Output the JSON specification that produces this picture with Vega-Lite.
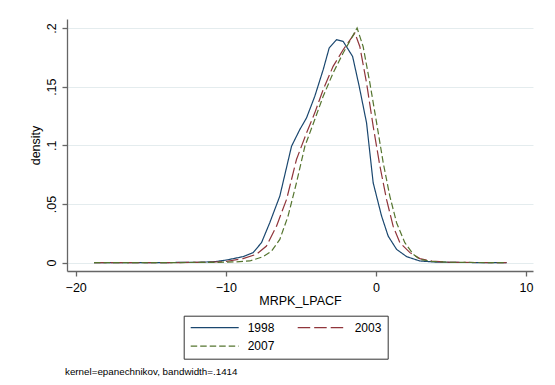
{
  "$schema": "https://vega.github.io/schema/vega-lite/v6.json",
  "width": 466,
  "height": 252,
  "autosize": {"type": "none"},
  "padding": {"left": 67, "top": 19, "right": 22, "bottom": 114},
  "background": "white",
  "title": {
    "text": "kernel=epanechnikov, bandwidth=.1414",
    "orient": "bottom",
    "anchor": "start",
    "frame": "group",
    "font": "Liberation Sans",
    "fontSize": 9.8,
    "fontWeight": "normal",
    "color": "black",
    "offset": 8,
    "dx": -2
  },
  "data": {
    "values": [
      {"year": "1998", "x": -18.78, "y": 0},
      {"year": "1998", "x": -14.4, "y": 0},
      {"year": "1998", "x": -11.73, "y": 0.0003},
      {"year": "1998", "x": -10.73, "y": 0.0008},
      {"year": "1998", "x": -9.95, "y": 0.0022},
      {"year": "1998", "x": -8.85, "y": 0.0051},
      {"year": "1998", "x": -8.18, "y": 0.0085},
      {"year": "1998", "x": -7.62, "y": 0.017},
      {"year": "1998", "x": -7.07, "y": 0.034},
      {"year": "1998", "x": -6.4, "y": 0.0567},
      {"year": "1998", "x": -5.62, "y": 0.0992},
      {"year": "1998", "x": -5.07, "y": 0.1134},
      {"year": "1998", "x": -4.62, "y": 0.1234},
      {"year": "1998", "x": -4.07, "y": 0.1418},
      {"year": "1998", "x": -3.51, "y": 0.1645},
      {"year": "1998", "x": -3.11, "y": 0.183},
      {"year": "1998", "x": -2.62, "y": 0.19},
      {"year": "1998", "x": -2.18, "y": 0.1886},
      {"year": "1998", "x": -1.55, "y": 0.1758},
      {"year": "1998", "x": -1.11, "y": 0.1503},
      {"year": "1998", "x": -0.62, "y": 0.1191},
      {"year": "1998", "x": -0.18, "y": 0.0681},
      {"year": "1998", "x": 0.38, "y": 0.0397},
      {"year": "1998", "x": 0.82, "y": 0.0226},
      {"year": "1998", "x": 1.38, "y": 0.0113},
      {"year": "1998", "x": 2.05, "y": 0.0051},
      {"year": "1998", "x": 2.93, "y": 0.0014},
      {"year": "1998", "x": 3.93, "y": 0.0005},
      {"year": "1998", "x": 5.6, "y": 0.0001},
      {"year": "1998", "x": 8.71, "y": 0},
      {"year": "2003", "x": -18.78, "y": 0},
      {"year": "2003", "x": -14.4, "y": 0},
      {"year": "2003", "x": -11.4, "y": 0.0002},
      {"year": "2003", "x": -10.07, "y": 0.0008},
      {"year": "2003", "x": -8.85, "y": 0.0034},
      {"year": "2003", "x": -7.95, "y": 0.0071},
      {"year": "2003", "x": -7.29, "y": 0.0141},
      {"year": "2003", "x": -6.62, "y": 0.0311},
      {"year": "2003", "x": -5.95, "y": 0.0539},
      {"year": "2003", "x": -5.29, "y": 0.0879},
      {"year": "2003", "x": -4.62, "y": 0.1106},
      {"year": "2003", "x": -4.07, "y": 0.1277},
      {"year": "2003", "x": -3.51, "y": 0.1475},
      {"year": "2003", "x": -2.85, "y": 0.1673},
      {"year": "2003", "x": -2.18, "y": 0.1815},
      {"year": "2003", "x": -1.4, "y": 0.1957},
      {"year": "2003", "x": -1.07, "y": 0.1843},
      {"year": "2003", "x": -0.62, "y": 0.1532},
      {"year": "2003", "x": -0.18, "y": 0.1163},
      {"year": "2003", "x": 0.27, "y": 0.0822},
      {"year": "2003", "x": 0.71, "y": 0.0539},
      {"year": "2003", "x": 1.15, "y": 0.0311},
      {"year": "2003", "x": 1.6, "y": 0.017},
      {"year": "2003", "x": 2.27, "y": 0.0085},
      {"year": "2003", "x": 2.93, "y": 0.0034},
      {"year": "2003", "x": 3.73, "y": 0.0012},
      {"year": "2003", "x": 4.93, "y": 0.0003},
      {"year": "2003", "x": 6.6, "y": 0.0001},
      {"year": "2003", "x": 8.71, "y": 0},
      {"year": "2007", "x": -18.78, "y": 0},
      {"year": "2007", "x": -14.4, "y": 0},
      {"year": "2007", "x": -10.73, "y": 0.0002},
      {"year": "2007", "x": -9.4, "y": 0.0006},
      {"year": "2007", "x": -8.4, "y": 0.0014},
      {"year": "2007", "x": -7.51, "y": 0.0051},
      {"year": "2007", "x": -6.95, "y": 0.0099},
      {"year": "2007", "x": -6.4, "y": 0.0198},
      {"year": "2007", "x": -5.85, "y": 0.0397},
      {"year": "2007", "x": -5.29, "y": 0.0681},
      {"year": "2007", "x": -4.73, "y": 0.0992},
      {"year": "2007", "x": -4.07, "y": 0.122},
      {"year": "2007", "x": -3.51, "y": 0.1418},
      {"year": "2007", "x": -2.85, "y": 0.1617},
      {"year": "2007", "x": -2.18, "y": 0.1787},
      {"year": "2007", "x": -1.62, "y": 0.1915},
      {"year": "2007", "x": -1.25, "y": 0.2},
      {"year": "2007", "x": -0.85, "y": 0.1843},
      {"year": "2007", "x": -0.4, "y": 0.1532},
      {"year": "2007", "x": 0.05, "y": 0.1191},
      {"year": "2007", "x": 0.49, "y": 0.0851},
      {"year": "2007", "x": 0.93, "y": 0.0567},
      {"year": "2007", "x": 1.38, "y": 0.034},
      {"year": "2007", "x": 1.93, "y": 0.017},
      {"year": "2007", "x": 2.49, "y": 0.0071},
      {"year": "2007", "x": 2.93, "y": 0.0028},
      {"year": "2007", "x": 3.73, "y": 0.001},
      {"year": "2007", "x": 4.93, "y": 0.0003},
      {"year": "2007", "x": 6.6, "y": 0.0001},
      {"year": "2007", "x": 8.71, "y": 0}
    ]
  },
  "mark": {"type": "line", "strokeWidth": 1.2, "interpolate": "linear"},
  "encoding": {
    "x": {
      "field": "x",
      "type": "quantitative",
      "scale": {"domain": [-20.58, 10.47], "nice": false, "zero": false},
      "axis": {
        "values": [-20, -10, 0, 10],
        "title": "MRPK_LPACF",
        "grid": false,
        "labelPadding": 5,
        "titlePadding": 1
      }
    },
    "y": {
      "field": "y",
      "type": "quantitative",
      "scale": {"domain": [-0.00715, 0.2077], "nice": false, "zero": false},
      "axis": {
        "values": [0, 0.05, 0.1, 0.15, 0.2],
        "title": "density",
        "grid": true,
        "labelAngle": -90,
        "labelAlign": "center",
        "labelBaseline": "alphabetic",
        "labelPadding": 6.5,
        "titlePadding": 3,
        "labelExpr": "datum.value == 0 ? '0' : replace(format(datum.value, '.2~f'), '0.', '.')"
      }
    },
    "color": {
      "field": "year",
      "type": "nominal",
      "scale": {"domain": ["1998", "2003", "2007"], "range": ["#1a476f", "#90353b", "#55752f"]},
      "legend": {"title": null}
    },
    "strokeDash": {
      "field": "year",
      "type": "nominal",
      "scale": {"domain": ["1998", "2003", "2007"], "range": [[1, 0], [12.5, 4], [6.5, 3]]},
      "legend": {"title": null}
    }
  },
  "config": {
    "view": {"stroke": null},
    "axis": {
      "domainColor": "#666666",
      "domainWidth": 1.3,
      "tickColor": "#666666",
      "tickWidth": 1.3,
      "tickSize": 5,
      "gridColor": "#e4ecee",
      "gridWidth": 1,
      "labelFont": "Liberation Sans",
      "labelFontSize": 12.5,
      "labelColor": "black",
      "titleFont": "Liberation Sans",
      "titleFontSize": 12.5,
      "titleFontWeight": "normal",
      "titleColor": "black"
    },
    "legend": {
      "orient": "none",
      "legendX": 116.7,
      "legendY": 296.7,
      "direction": "horizontal",
      "columns": 2,
      "symbolType": "M-1,0H8.6",
      "symbolSize": 100,
      "symbolStrokeWidth": 1.2,
      "labelFont": "Liberation Sans",
      "labelFontSize": 12,
      "labelColor": "black",
      "labelOffset": 46,
      "columnPadding": 20,
      "rowPadding": 6.5,
      "padding": 6,
      "strokeColor": "#333333",
      "fillColor": "white"
    }
  }
}
